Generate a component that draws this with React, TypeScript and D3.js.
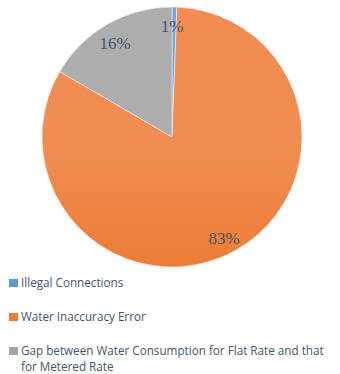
import React from "react";
import * as d3 from "d3";

const categories = [
  "Illegal Connections",
  "Water Inaccuracy Error",
  "Gap between Water Consumption for Flat Rate and that for Metered Rate",
];
const values = [0.6, 82.8, 16.6];
const pctLabels = ["1%", "83%", "16%"];
const legendLines = [
  ["Illegal Connections"],
  ["Water Inaccuracy Error"],
  ["Gap between Water Consumption for Flat Rate and that", "for Metered Rate"],
];

const gradients = [
  ["#6fa8e0", "#4a86c8"],
  ["#f18d52", "#e56b17"],
  ["#adadad", "#8c8c8c"],
];
const swatch = ["#5b9bd5", "#ed7d31", "#a5a5a5"];

export default function App() {
  const W = 340, H = 374;
  const cx = 172, cy = 137, r = 130;
  const pie = d3.pie<number>().sort(null).value((d) => d);
  const arcs = pie(values);
  const arc = d3.arc<d3.PieArcDatum<number>>().innerRadius(0).outerRadius(r);
  const labelPos = [
    [172, 26],
    [224, 238],
    [115, 43],
  ];
  const legendY = [283, 317, 351];
  return (
    <svg width={W} height={H} style={{ position: "absolute", left: 0, top: 0 }}>
      <defs>
        {gradients.map((g, i) => (
          <linearGradient key={i} id={`g${i}`} gradientUnits="userSpaceOnUse" x1={0} y1={cy - r} x2={0} y2={cy + r}>
            <stop offset="0" stopColor={g[0]} />
            <stop offset="1" stopColor={g[1]} />
          </linearGradient>
        ))}
      </defs>
      <g transform={`translate(${cx},${cy})`}>
        {arcs.map((a, i) => (
          <path key={i} d={arc(a) || ""} fill={`url(#g${i})`} stroke="#ffffff" strokeWidth={0.5} />
        ))}
      </g>
      {pctLabels.map((t, i) => (
        <text
          key={i}
          x={labelPos[i][0]}
          y={labelPos[i][1]}
          textAnchor="middle"
          dominantBaseline="central"
          fontFamily="'Liberation Serif', 'Times New Roman', serif"
          fontSize={17}
          fill="#44546a"
        >
          {t}
        </text>
      ))}
      {categories.map((c, i) => (
        <g key={c}>
          <rect x={9} y={legendY[i] - 4} width={9} height={8} fill={swatch[i]} />
          {legendLines[i].map((ln, j) => (
            <text
              key={j}
              x={21}
              y={legendY[i] + 4 + j * 16}
              fontFamily="'Open Sans', 'Liberation Sans', sans-serif"
              fontSize={11.7}
              fill="#44546a"
            >
              {ln}
            </text>
          ))}
        </g>
      ))}
    </svg>
  );
}
